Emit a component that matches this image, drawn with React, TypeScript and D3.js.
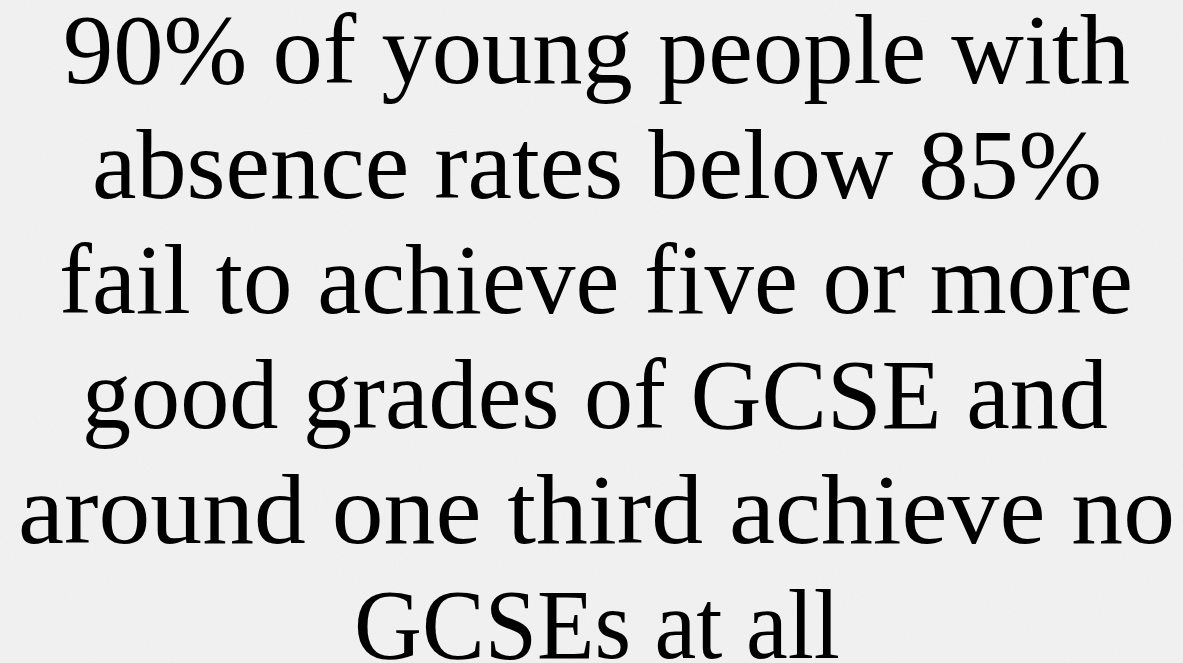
import React, { useEffect, useRef } from 'react';
import * as d3 from 'd3';

// Slide text, one entry per line
const lines = [
  '90% of young people with',
  'absence rates below 85%',
  'fail to achieve five or more',
  'good grades of GCSE and',
  'around one third achieve no',
  'GCSEs at all',
];

// Horizontal extent of each line in the reference (left, right)
const lineExtents: [number, number][] = [
  [63, 1130],
  [92, 1102],
  [59, 1133],
  [82, 1108],
  [18, 1175],
  [354, 840],
];

const App: React.FC = () => {
  const svgRef = useRef<SVGSVGElement>(null);

  useEffect(() => {
    if (!svgRef.current) return;

    const width = 1183;
    const height = 663;

    d3.select(svgRef.current).selectAll('*').remove();

    const svg = d3.select(svgRef.current)
      .attr('width', width)
      .attr('height', height);

    // Paper-like background
    const defs = svg.append('defs');
    const filter = defs.append('filter').attr('id', 'paper');
    filter.append('feTurbulence')
      .attr('type', 'fractalNoise')
      .attr('baseFrequency', 0.9)
      .attr('numOctaves', 2)
      .attr('seed', 3);
    filter.append('feColorMatrix')
      .attr('values', '0 0 0 0 0  0 0 0 0 0  0 0 0 0 0  0 0 0 0.025 0');

    svg.append('rect')
      .attr('width', width)
      .attr('height', height)
      .attr('fill', '#f3f3f3');
    svg.append('rect')
      .attr('width', width)
      .attr('height', height)
      .attr('filter', 'url(#paper)');

    // Baselines: first line at 83, last at 658
    const y = d3.scaleLinear()
      .domain([0, lines.length - 1])
      .range([83, 658]);

    const text = svg.append('g')
      .attr('font-family', '"Liberation Serif", "DejaVu Serif", serif')
      .attr('font-size', 100)
      .attr('fill', '#000')
      .attr('text-anchor', 'middle')
      .selectAll('text')
      .data(lines)
      .enter().append('text')
      .attr('x', (d, i) => (lineExtents[i][0] + lineExtents[i][1]) / 2)
      .attr('y', (d, i) => y(i))
      .text(d => d);

    // Fit each line to the width it has in the slide
    text.each(function (d, i) {
      const node = this as SVGTextElement;
      const target = lineExtents[i][1] - lineExtents[i][0];
      const natural = node.getComputedTextLength();
      if (Math.abs(natural - target) > 2) {
        d3.select(node)
          .attr('textLength', target)
          .attr('lengthAdjust', 'spacingAndGlyphs');
      }
    });
  }, []);

  return (
    <svg
      ref={svgRef}
      style={{ position: 'absolute', left: 0, top: 0, display: 'block' }}
    ></svg>
  );
};

export default App;
